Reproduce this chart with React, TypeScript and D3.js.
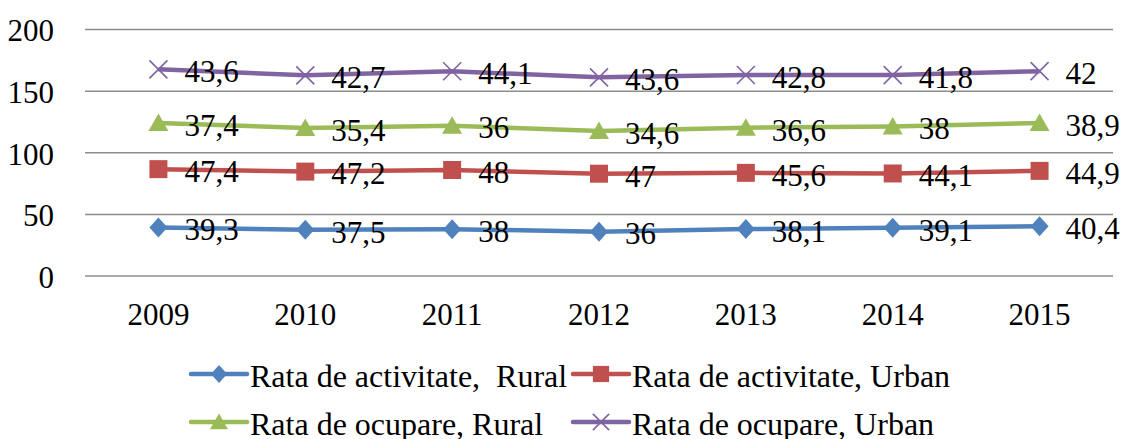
import * as d3 from 'd3';

const years = ['2009', '2010', '2011', '2012', '2013', '2014', '2015'];
const activRural = [39.3, 37.5, 38, 36, 38.1, 39.1, 40.4];
const activUrban = [47.4, 47.2, 48, 47, 45.6, 44.1, 44.9];
const ocupRural = [37.4, 35.4, 36, 34.6, 36.6, 38, 38.9];
const ocupUrban = [43.6, 42.7, 44.1, 43.6, 42.8, 41.8, 42];
const yTicks = [0, 50, 100, 150, 200];

const seriesNames = [
  'Rata de activitate,  Rural',
  'Rata de activitate, Urban',
  'Rata de ocupare, Rural',
  'Rata de ocupare, Urban',
];
const seriesValues = [activRural, activUrban, ocupRural, ocupUrban];
const colors = ['#4F81BD', '#C0504D', '#9BBB59', '#8064A2'];
const markers = ['diamond', 'square', 'triangle', 'cross'];

const serif = { fontFamily: '"Liberation Serif"' };

// marker shapes in the Excel style (wider diamond than d3's)
function markerPath(type: string, s: number) {
  if (type === 'diamond') return `M0,${-10 * s}L${9 * s},0L0,${10 * s}L${-9 * s},0Z`;
  if (type === 'square') return `M${-9 * s},${-9 * s}h${18 * s}v${18 * s}h${-18 * s}Z`;
  if (type === 'triangle') return `M0,${-9.5 * s}L${10 * s},${8 * s}L${-10 * s},${8 * s}Z`;
  return `M${-9 * s},${-9 * s}L${9 * s},${9 * s}M${9 * s},${-9 * s}L${-9 * s},${9 * s}`;
}

function Marker({ type, color, cx, cy, s = 1 }) {
  const cross = type === 'cross';
  return (
    <path
      d={markerPath(type, s)}
      transform={`translate(${cx},${cy})`}
      fill={cross ? 'none' : color}
      stroke={cross ? color : 'none'}
      strokeWidth={cross ? 1.6 : 0}
    />
  );
}

export default function App() {
  const width = 1123;
  const height = 439;

  const x = d3.scalePoint().domain(years).range([85, 1113]).padding(0.5);
  const y = d3.scaleLinear().domain([0, 200]).range([276, 29.5]);

  // stacked cumulative values
  const cum = years.map(() => 0);
  const stacked = seriesValues.map(vals => vals.map((v, i) => (cum[i] += v)));

  const line = d3.line<number>().x((d, i) => x(years[i])!).y(d => y(d));

  const legendPos = [
    [191, 374], [573, 374], [191, 422], [573, 422],
  ];

  return (
    <div style={{ position: 'fixed', left: 0, top: 0, background: '#fff' }}>
      <svg width={width} height={height}>
        {yTicks.map(t => (
          <line key={'g' + t} x1={85} x2={1113} y1={y(t)} y2={y(t)} stroke="#8c8c8c" strokeWidth={1.5} />
        ))}
        {yTicks.map(t => (
          <text key={'y' + t} x={54} y={y(t) + 1} dy="0.35em" textAnchor="end"
            fontSize={31} style={serif}>{t}</text>
        ))}
        {years.map(yr => (
          <text key={'x' + yr} x={x(yr)} y={314} dy="0.35em" textAnchor="middle"
            fontSize={31} style={serif}>{yr}</text>
        ))}

        {stacked.map((vals, s) => (
          <g key={'s' + s}>
            <path d={line(vals) || ''} fill="none" stroke={colors[s]} strokeWidth={4.5} strokeLinejoin="round" />
            {vals.map((v, i) => (
              <Marker key={i} type={markers[s]} color={colors[s]} cx={x(years[i])} cy={y(v)} />
            ))}
            {vals.map((v, i) => (
              <text key={'l' + i} x={x(years[i])! + 26} y={y(v) + 2} dy="0.35em"
                fontSize={31} style={serif}>
                {String(seriesValues[s][i]).replace('.', ',')}
              </text>
            ))}
          </g>
        ))}

        {seriesNames.map((name, s) => {
          const [lx, ly] = legendPos[s];
          return (
            <g key={'lg' + s}>
              <line x1={lx} x2={lx + 56} y1={ly} y2={ly} stroke={colors[s]} strokeWidth={4.5} strokeLinecap="round" />
              <Marker type={markers[s]} color={colors[s]} cx={lx + 28} cy={ly} s={0.9} />
              <text x={lx + 59} y={ly + 2} dy="0.35em" fontSize={32}
                style={{ ...serif, whiteSpace: 'pre' }}>{name}</text>
            </g>
          );
        })}
      </svg>
    </div>
  );
}
